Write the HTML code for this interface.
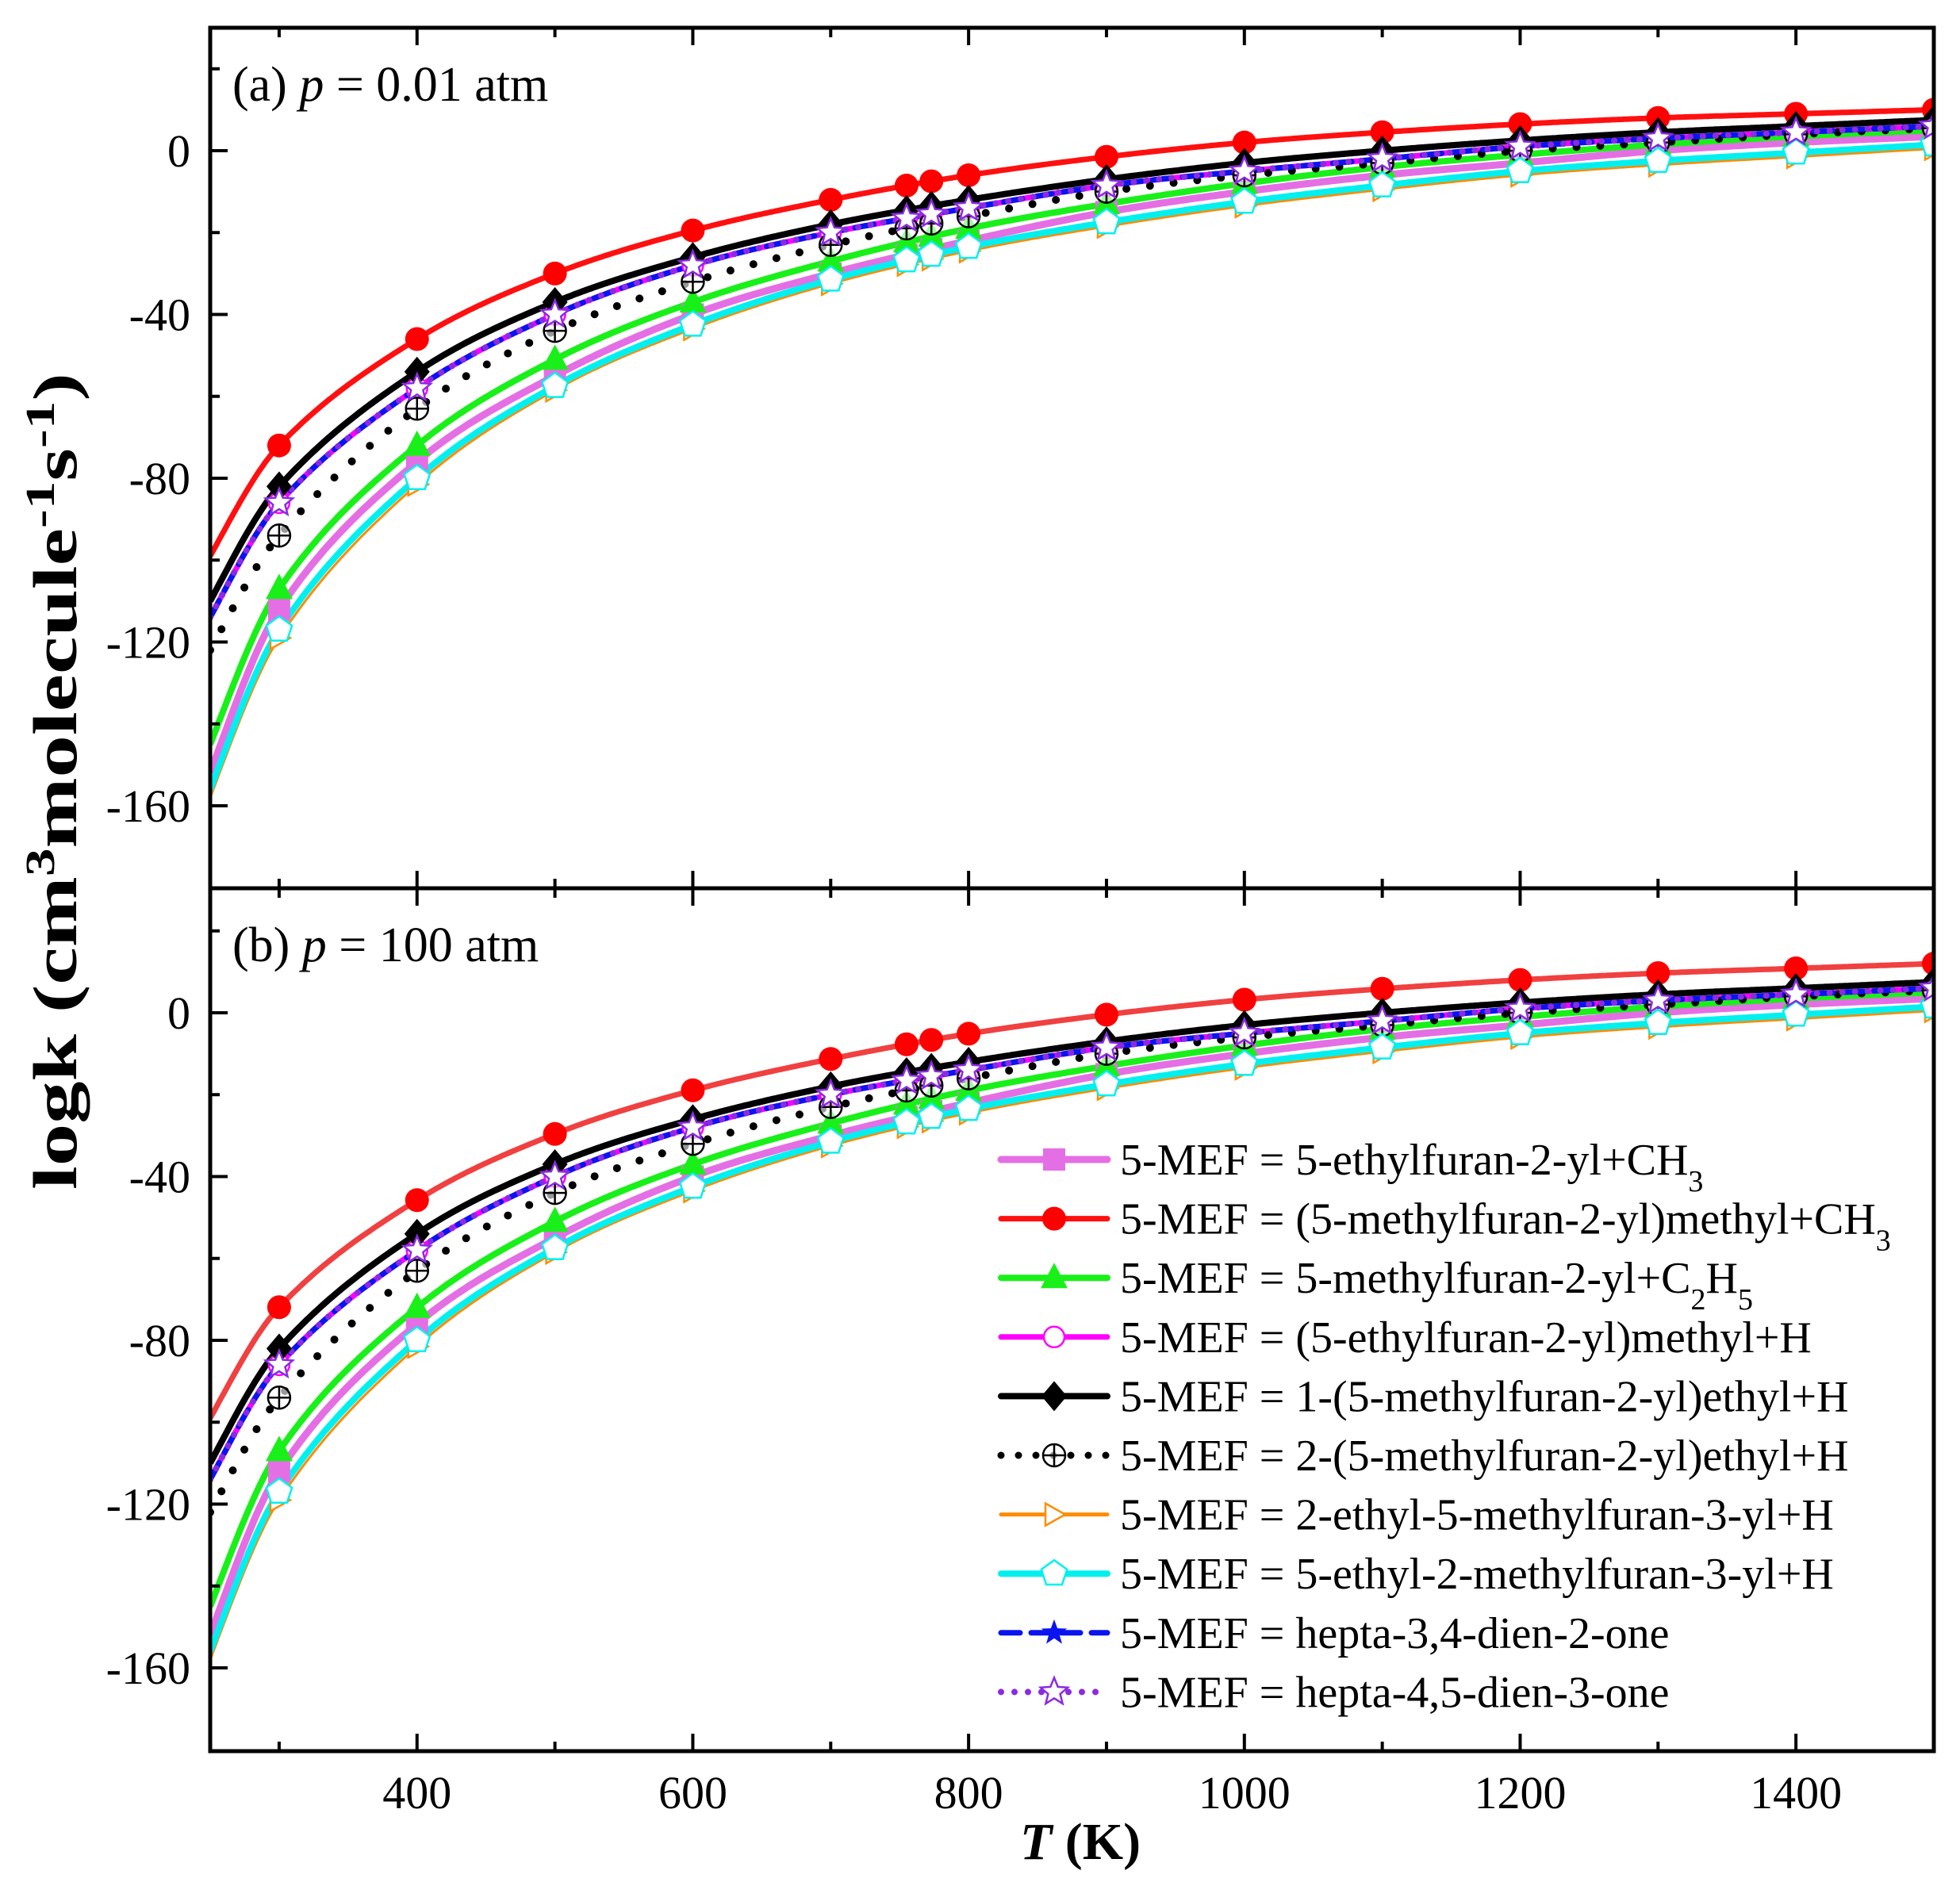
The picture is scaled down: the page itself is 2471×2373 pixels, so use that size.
<!DOCTYPE html>
<html><head><meta charset="utf-8">
<style>
html,body{margin:0;padding:0;background:#fff;}
svg{display:block;}
text{font-family:"Liberation Serif",serif;}
</style></head>
<body>
<svg id="s" width="2471" height="2373" viewBox="0 0 2471 2373" xmlns="http://www.w3.org/2000/svg">
<defs>
<clipPath id="ca"><rect x="265" y="35" width="2173" height="1085"/></clipPath>
<clipPath id="cb"><rect x="265" y="1120" width="2173" height="1088"/></clipPath>
</defs>
<g id="plot"></g>
<rect x="265" y="35" width="2173" height="2173" fill="none" stroke="#000" stroke-width="5"/>
<line x1="265" y1="1120" x2="2438" y2="1120" stroke="#000" stroke-width="5"/>
<g id="ticks" stroke="#000" stroke-width="4"></g>
<g id="labels" font-size="58" fill="#000"></g>
<text x="293" y="127" font-size="62">(a) <tspan font-style="italic">p</tspan> = 0.01 atm</text>
<text x="293" y="1212" font-size="62">(b) <tspan font-style="italic">p</tspan> = 100 atm</text>
<text transform="translate(96,985) rotate(-90)" text-anchor="middle" font-size="78" font-weight="bold" textLength="1030" lengthAdjust="spacingAndGlyphs">logk (cm<tspan baseline-shift="super" font-size="52">3</tspan>molecule<tspan baseline-shift="super" font-size="52">-1</tspan>s<tspan baseline-shift="super" font-size="52">-1</tspan>)</text>
<text x="1362" y="2344" text-anchor="middle" font-size="66" font-weight="bold"><tspan font-style="italic">T</tspan> (K)</text>
<g id="legend" font-size="56"></g>
</svg>
<script>
var NS="http://www.w3.org/2000/svg";
function el(tag,attrs,parent){var e=document.createElementNS(NS,tag);for(var k in attrs)e.setAttribute(k,attrs[k]);if(parent)parent.appendChild(e);return e;}
function X(T){return 265+(T-250)*1.7384;}
var K=5.1625;
function YA(v){return 190-v*K;}
function YB(v){return 1277-v*K;}
var Ts=[250,300,400,500,600,700,800,900,1000,1100,1200,1300,1400,1500];
var S=[
 {n:"5-ethylfuran-2-yl+CH<tspan baseline-shift='sub' font-size='38'>3</tspan>",c:"#e46fe4",w:9,d:null,m:"sq",v:[-152,-112,-76,-55,-40,-30,-22,-15,-10,-6,-3,0,2,3.5]},
 {n:"(5-methylfuran-2-yl)methyl+CH<tspan baseline-shift='sub' font-size='38'>3</tspan>",c:"#ff1010",c2:"#f04040",w:7,d:null,m:"ci",v:[-99,-72,-46,-30,-19.5,-12,-6,-1.5,2,4.5,6.5,8,9,10]},
 {n:"5-methylfuran-2-yl+C<tspan baseline-shift='sub' font-size='38'>2</tspan>H<tspan baseline-shift='sub' font-size='38'>5</tspan>",c:"#19f019",w:8,d:null,m:"tr",v:[-145,-107,-72,-51,-37,-27,-19,-13,-8,-4,-1,1.5,3.5,5]},
 {n:"(5-ethylfuran-2-yl)methyl+H",c:"#ff00ff",w:7,d:null,m:"oc",v:[-114,-86,-58,-40,-28,-20,-14,-8.5,-5,-2,1,3,4.5,6]},
 {n:"1-(5-methylfuran-2-yl)ethyl+H",c:"#000000",w:8,d:null,m:"di",v:[-110,-82,-54,-37,-26,-18,-12,-7,-3,0,2.5,4.5,6,7.5]},
 {n:"2-(5-methylfuran-2-yl)ethyl+H",c:"#000000",w:10,d:"0 30",m:"cp",v:[-122,-94,-63,-44,-32,-23,-16,-10,-6,-3,0,2,4,5.5]},
 {n:"2-ethyl-5-methylfuran-3-yl+H",c:"#ff8c00",w:3,d:null,m:"rt",v:[-158,-119,-81.5,-58.5,-43.5,-32.5,-24.5,-18.5,-13.5,-9.5,-6,-3.5,-1.5,0.5]},
 {n:"5-ethyl-2-methylfuran-3-yl+H",c:"#00f0f0",w:8,d:null,m:"pe",v:[-156,-117,-80,-57.5,-42.5,-31.5,-23.5,-17.5,-12.5,-8.5,-5,-2.5,-0.5,1.5]},
 {n:"hepta-3,4-dien-2-one",c:"#0a14f0",w:7,d:"24 14",m:"fs",v:[-114,-86,-58,-40,-28,-20,-14,-8.5,-5,-2,1,3,4.5,6]},
 {n:"hepta-4,5-dien-3-one",c:"#8a2be2",w:8,d:"0 16",m:"os",v:[-114,-86,-58,-40,-28,-20,-14,-8.5,-5,-2,1,3,4.5,6]}
];
function cr(v,T){
 var i=0;while(i<Ts.length-2&&T>Ts[i+1])i++;
 var t0=Ts[Math.max(0,i-1)],t1=Ts[i],t2=Ts[i+1],t3=Ts[Math.min(Ts.length-1,i+2)];
 var v0=v[Math.max(0,i-1)],v1=v[i],v2=v[i+1],v3=v[Math.min(Ts.length-1,i+2)];
 var h=t2-t1;
 var m1=(i==0)?(v2-v1)/h*1.25-((v3-v2)/(t3-t2))*0.25:(v2-v0)/(t2-t0);
 var m2=(v3-v1)/(t3-t1);if(i+2>Ts.length-1)m2=(v2-v1)/h;
 var s=(T-t1)/h,s2=s*s,s3=s2*s;
 return (2*s3-3*s2+1)*v1+(s3-2*s2+s)*h*m1+(-2*s3+3*s2)*v2+(s3-s2)*h*m2;
}
function marker(g,s,x,y){
 var m=s.m;
 if(m=="sq")el("rect",{x:x-14,y:y-14,width:28,height:28,fill:s.c},g);
 else if(m=="ci")el("circle",{cx:x,cy:y,r:15,fill:"#ff0000"},g);
 else if(m=="tr")el("polygon",{points:(x)+","+(y-19)+" "+(x+17)+","+(y+13)+" "+(x-17)+","+(y+13),fill:s.c},g);
 else if(m=="oc")el("circle",{cx:x,cy:y,r:13,fill:"#fff",stroke:s.c,"stroke-width":2.5},g);
 else if(m=="di")el("polygon",{points:x+","+(y-19)+" "+(x+16)+","+y+" "+x+","+(y+19)+" "+(x-16)+","+y,fill:"#000"},g);
 else if(m=="cp"){el("circle",{cx:x,cy:y,r:14,fill:"#fff","fill-opacity":0.6,stroke:"#000","stroke-width":2.5},g);el("path",{d:"M"+(x-14)+","+y+"H"+(x+14)+"M"+x+","+(y-14)+"V"+(y+14),stroke:"#000","stroke-width":2.5},g);}
 else if(m=="rt")el("polygon",{points:(x-11)+","+(y-14)+" "+(x+14)+","+y+" "+(x-11)+","+(y+14),fill:"#fff",stroke:s.c,"stroke-width":2.5},g);
 else if(m=="pe"){var s2="";for(var i=0;i<5;i++){var a=-Math.PI/2+i*2*Math.PI/5;s2+=(x+17*Math.cos(a)).toFixed(1)+","+(y+17*Math.sin(a)).toFixed(1)+" ";}el("polygon",{points:s2,fill:"#fff",stroke:s.c,"stroke-width":2.5},g);}
 else if(m=="fs"||m=="os"){var R=m=="fs"?17:18,r=m=="fs"?7:8,p="";for(var i=0;i<10;i++){var a=-Math.PI/2+i*Math.PI/5,rr=i%2?r:R;p+=(x+rr*Math.cos(a)).toFixed(1)+","+(y+rr*Math.sin(a)).toFixed(1)+" ";}
  if(m=="fs")el("polygon",{points:p,fill:s.c},g);else el("polygon",{points:p,fill:"#fff",stroke:s.c,"stroke-width":2.5},g);}
}
var plot=document.getElementById("plot");
[[YA,"ca",0],[YB,"cb",1]].forEach(function(P){
 var Y=P[0],g=el("g",{"clip-path":"url(#"+P[1]+")"},plot);
 function val(s,T){var v=cr(s.v,T);if(P[2]==1&&s.m=="ci")v+=(T-250)/1250*2;return v;}
 S.forEach(function(s){
  var d="";for(var T=250;T<=1500;T+=2){d+=(T==250?"M":"L")+X(T).toFixed(1)+","+Y(val(s,T)).toFixed(1);}
  var a={d:d,fill:"none",stroke:(P[2]==1&&s.c2)?s.c2:s.c,"stroke-width":s.w,"stroke-linecap":s.d?"round":"butt","stroke-linejoin":"round"};
  if(s.d)a["stroke-dasharray"]=s.d;
  el("path",a,g);
 });
 var MT=[300,400,500,600,700,755,773,800,900,1000,1100,1200,1300,1400,1500];
 S.forEach(function(s){MT.forEach(function(T){marker(g,s,X(T),Y(val(s,T)));});});
});
var tk=document.getElementById("ticks"),lb=document.getElementById("labels");
[[35,1120,YA],[1120,2208,YB]].forEach(function(P){
 var top=P[0],bot=P[1],Y=P[2];
 for(var T=300;T<=1400;T+=100){var big=(T%200==0);var L=big?22:12;el("line",{x1:X(T),y1:bot,x2:X(T),y2:bot-L},tk);el("line",{x1:X(T),y1:top,x2:X(T),y2:top+L},tk);}
 for(var v=20;v>=-180;v-=20){var y=Y(v);if(y<=top+2||y>=bot-2)continue;var big=(v%40==0);el("line",{x1:265,y1:y,x2:265+(big?22:12),y2:y},tk);if(big){var t=el("text",{x:240,y:y+20,"text-anchor":"end"},lb);t.textContent=(v<0?"-":"")+Math.abs(v);}}
});
for(var T=400;T<=1400;T+=200){var t=el("text",{x:X(T),y:2280,"text-anchor":"middle"},lb);t.textContent=T;}
var lg=document.getElementById("legend");
S.forEach(function(s,i){
 var y=1462+i*74.6;
 var a={x1:1262,y1:y,x2:1396,y2:y,stroke:s.c,"stroke-width":s.m=="rt"?5:(s.w>8?9:s.w),"stroke-linecap":"round"};
 if(s.d)a["stroke-dasharray"]=s.d=="0 30"?"0 22":(s.d=="0 16"?"0 17":s.d);
 el("line",a,lg);
 marker(lg,s,1329,y);
 var t=el("text",{x:1412,y:y+19},lg);t.innerHTML="5-MEF = "+s.n;
});
</script>
</body></html>
